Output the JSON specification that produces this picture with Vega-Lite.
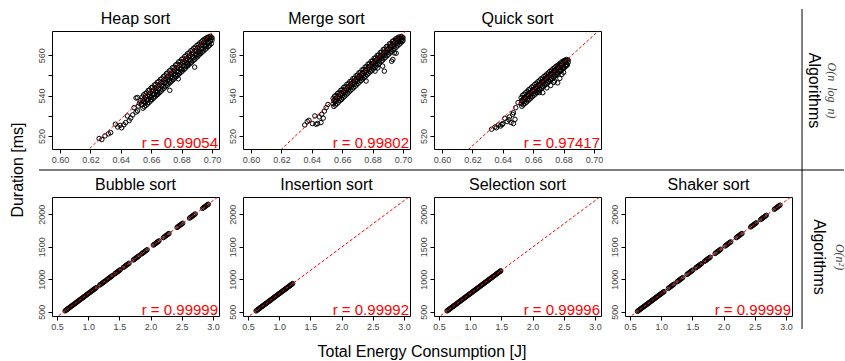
{
"$schema":"https://vega.github.io/schema/vega-lite/v6.json",
"padding":{"left":9,"top":8,"right":0,"bottom":0},
"background":"white",
"config":{
 "font":"Liberation Sans",
 "view":{"stroke":"#000","strokeWidth":1},
 "axis":{"grid":false,"domain":false,"ticks":true,"tickColor":"#000","tickSize":4,"tickWidth":1,"tickCount":20,"labelFont":"Liberation Sans","labelFontSize":9,"labelColor":"#444","labelPadding":2,"labelFlush":false,"labelOverlap":false},
 "axisY":{"labelAngle":-90,"labelAlign":"center","labelBaseline":"bottom"},
 "title":{"fontSize":16,"fontWeight":"normal","color":"#000","font":"Liberation Sans","offset":4}
},
"datasets":{
"heap":[
{"energy":0.654,"duration":535.6},{"energy":0.654,"duration":539.2},{"energy":0.655,"duration":537.1},{"energy":0.655,"duration":540.3},{"energy":0.656,"duration":536.4},{"energy":0.656,"duration":540.9},{"energy":0.657,"duration":538.0},{"energy":0.657,"duration":541.3},{"energy":0.658,"duration":537.9},{"energy":0.658,"duration":542.5},{"energy":0.659,"duration":539.6},{"energy":0.659,"duration":542.8},{"energy":0.660,"duration":539.1},{"energy":0.660,"duration":543.9},{"energy":0.661,"duration":540.7},{"energy":0.661,"duration":544.1},{"energy":0.662,"duration":540.5},{"energy":0.662,"duration":545.2},{"energy":0.663,"duration":542.1},{"energy":0.663,"duration":545.5},{"energy":0.664,"duration":541.6},{"energy":0.664,"duration":546.6},{"energy":0.665,"duration":543.4},{"energy":0.665,"duration":546.9},{"energy":0.666,"duration":542.9},{"energy":0.666,"duration":548.0},{"energy":0.667,"duration":544.8},{"energy":0.667,"duration":548.3},{"energy":0.668,"duration":544.5},{"energy":0.668,"duration":549.4},{"energy":0.669,"duration":546.2},{"energy":0.669,"duration":549.8},{"energy":0.670,"duration":545.8},{"energy":0.670,"duration":550.9},{"energy":0.671,"duration":547.6},{"energy":0.671,"duration":551.2},{"energy":0.672,"duration":547.2},{"energy":0.672,"duration":552.3},{"energy":0.673,"duration":549.0},{"energy":0.673,"duration":552.6},{"energy":0.674,"duration":548.7},{"energy":0.674,"duration":553.8},{"energy":0.675,"duration":550.5},{"energy":0.675,"duration":554.0},{"energy":0.676,"duration":550.1},{"energy":0.676,"duration":555.1},{"energy":0.677,"duration":551.9},{"energy":0.677,"duration":555.5},{"energy":0.678,"duration":551.6},{"energy":0.678,"duration":556.6},{"energy":0.679,"duration":553.2},{"energy":0.679,"duration":556.9},{"energy":0.680,"duration":553.0},{"energy":0.680,"duration":558.0},{"energy":0.681,"duration":554.7},{"energy":0.681,"duration":558.2},{"energy":0.682,"duration":554.4},{"energy":0.682,"duration":559.3},{"energy":0.683,"duration":556.1},{"energy":0.683,"duration":559.8},{"energy":0.684,"duration":555.9},{"energy":0.684,"duration":560.8},{"energy":0.685,"duration":557.5},{"energy":0.685,"duration":561.1},{"energy":0.686,"duration":557.2},{"energy":0.686,"duration":562.2},{"energy":0.687,"duration":559.0},{"energy":0.687,"duration":562.6},{"energy":0.688,"duration":558.8},{"energy":0.688,"duration":563.5},{"energy":0.689,"duration":560.3},{"energy":0.689,"duration":563.9},{"energy":0.690,"duration":560.0},{"energy":0.690,"duration":564.8},{"energy":0.691,"duration":561.8},{"energy":0.691,"duration":565.3},{"energy":0.692,"duration":561.6},{"energy":0.692,"duration":566.1},{"energy":0.693,"duration":563.2},{"energy":0.693,"duration":566.6},{"energy":0.694,"duration":563.1},{"energy":0.694,"duration":567.4},{"energy":0.695,"duration":564.6},{"energy":0.695,"duration":567.9},{"energy":0.696,"duration":564.5},{"energy":0.696,"duration":568.4},{"energy":0.697,"duration":566.0},{"energy":0.697,"duration":568.8},{"energy":0.698,"duration":566.2},{"energy":0.698,"duration":569.1},{"energy":0.699,"duration":567.1},{"energy":0.699,"duration":569.4},{"energy":0.700,"duration":567.5},{"energy":0.700,"duration":568.6},
{"energy":0.6545,"duration":537.7},{"energy":0.6545,"duration":533.7},{"energy":0.6555,"duration":538.4},{"energy":0.6555,"duration":534.4},{"energy":0.6565,"duration":539.1},{"energy":0.6565,"duration":535.1},{"energy":0.6575,"duration":539.8},{"energy":0.6575,"duration":535.8},{"energy":0.6585,"duration":540.5},{"energy":0.6585,"duration":536.5},{"energy":0.6595,"duration":541.3},{"energy":0.6595,"duration":537.3},{"energy":0.6605,"duration":542.0},{"energy":0.6605,"duration":538.0},{"energy":0.6615,"duration":542.7},{"energy":0.6615,"duration":538.7},{"energy":0.6625,"duration":543.4},{"energy":0.6625,"duration":539.4},{"energy":0.6635,"duration":544.1},{"energy":0.6635,"duration":540.1},{"energy":0.6645,"duration":544.8},{"energy":0.6645,"duration":540.8},{"energy":0.6655,"duration":545.5},{"energy":0.6655,"duration":541.5},{"energy":0.6665,"duration":546.2},{"energy":0.6665,"duration":542.2},{"energy":0.6675,"duration":547.0},{"energy":0.6675,"duration":543.0},{"energy":0.6685,"duration":547.7},{"energy":0.6685,"duration":543.7},{"energy":0.6695,"duration":548.4},{"energy":0.6695,"duration":544.4},{"energy":0.6705,"duration":549.1},{"energy":0.6705,"duration":545.1},{"energy":0.6715,"duration":549.8},{"energy":0.6715,"duration":545.8},{"energy":0.6725,"duration":550.5},{"energy":0.6725,"duration":546.5},{"energy":0.6735,"duration":551.2},{"energy":0.6735,"duration":547.2},{"energy":0.6745,"duration":551.9},{"energy":0.6745,"duration":547.9},{"energy":0.6755,"duration":552.7},{"energy":0.6755,"duration":548.7},{"energy":0.6765,"duration":553.4},{"energy":0.6765,"duration":549.4},{"energy":0.6775,"duration":554.1},{"energy":0.6775,"duration":550.1},{"energy":0.6785,"duration":554.8},{"energy":0.6785,"duration":550.8},{"energy":0.6795,"duration":555.5},{"energy":0.6795,"duration":551.5},{"energy":0.6805,"duration":556.2},{"energy":0.6805,"duration":552.2},{"energy":0.6815,"duration":556.9},{"energy":0.6815,"duration":552.9},{"energy":0.6825,"duration":557.6},{"energy":0.6825,"duration":553.6},{"energy":0.6835,"duration":558.4},{"energy":0.6835,"duration":554.4},{"energy":0.6845,"duration":559.1},{"energy":0.6845,"duration":555.1},{"energy":0.6855,"duration":559.8},{"energy":0.6855,"duration":555.8},{"energy":0.6865,"duration":560.5},{"energy":0.6865,"duration":556.5},{"energy":0.6875,"duration":561.2},{"energy":0.6875,"duration":557.2},{"energy":0.6885,"duration":561.9},{"energy":0.6885,"duration":557.9},{"energy":0.6895,"duration":562.6},{"energy":0.6895,"duration":558.6},{"energy":0.6905,"duration":563.3},{"energy":0.6905,"duration":559.3},{"energy":0.6915,"duration":564.1},{"energy":0.6915,"duration":560.1},{"energy":0.6925,"duration":564.8},{"energy":0.6925,"duration":560.8},{"energy":0.6935,"duration":565.5},{"energy":0.6935,"duration":561.5},{"energy":0.6945,"duration":566.2},{"energy":0.6945,"duration":562.2},{"energy":0.6955,"duration":566.9},{"energy":0.6955,"duration":562.9},{"energy":0.6965,"duration":567.6},{"energy":0.6965,"duration":563.6},{"energy":0.6975,"duration":568.3},{"energy":0.6975,"duration":564.3},{"energy":0.6985,"duration":568.5},{"energy":0.6985,"duration":565.0},{"energy":0.6995,"duration":568.8},{"energy":0.6995,"duration":565.7},
{"energy":0.6886,"duration":554.1},{"energy":0.6778,"duration":548.3},{"energy":0.6722,"duration":542.6},{"energy":0.651,"duration":539.0},{"energy":0.684,"duration":555.5},{"energy":0.692,"duration":561.0},{"energy":0.696,"duration":565.0},{"energy":0.660,"duration":538.0},{"energy":0.664,"duration":540.5},
{"energy":0.6257,"duration":518.7},{"energy":0.6275,"duration":518.2},{"energy":0.6296,"duration":520.0},{"energy":0.6318,"duration":521.0},{"energy":0.6333,"duration":521.6},{"energy":0.6364,"duration":525.8},{"energy":0.638,"duration":524.4},{"energy":0.6395,"duration":525.2},{"energy":0.6405,"duration":524.0},{"energy":0.642,"duration":525.5},{"energy":0.6432,"duration":526.6},{"energy":0.6443,"duration":529.9},{"energy":0.6455,"duration":527.6},{"energy":0.6465,"duration":528.8},{"energy":0.6478,"duration":530.4},{"energy":0.6487,"duration":534.0},{"energy":0.65,"duration":531.8},{"energy":0.651,"duration":532.4},{"energy":0.6515,"duration":534.8},{"energy":0.6522,"duration":536.2},{"energy":0.6528,"duration":537.5},{"energy":0.65,"duration":538.8},{"energy":0.6535,"duration":535.5}
],
"merge":[
{"energy":0.654,"duration":535.9},{"energy":0.654,"duration":538.6},{"energy":0.655,"duration":537.0},{"energy":0.655,"duration":539.7},{"energy":0.656,"duration":537.2},{"energy":0.656,"duration":540.0},{"energy":0.657,"duration":538.6},{"energy":0.657,"duration":541.1},{"energy":0.658,"duration":538.5},{"energy":0.658,"duration":541.5},{"energy":0.659,"duration":540.1},{"energy":0.659,"duration":542.6},{"energy":0.660,"duration":539.9},{"energy":0.660,"duration":542.9},{"energy":0.661,"duration":541.5},{"energy":0.661,"duration":544.1},{"energy":0.662,"duration":541.3},{"energy":0.662,"duration":544.3},{"energy":0.663,"duration":542.9},{"energy":0.663,"duration":545.5},{"energy":0.664,"duration":542.8},{"energy":0.664,"duration":545.8},{"energy":0.665,"duration":544.4},{"energy":0.665,"duration":546.9},{"energy":0.666,"duration":544.2},{"energy":0.666,"duration":547.2},{"energy":0.667,"duration":545.8},{"energy":0.667,"duration":548.4},{"energy":0.668,"duration":545.6},{"energy":0.668,"duration":548.6},{"energy":0.669,"duration":547.3},{"energy":0.669,"duration":549.8},{"energy":0.670,"duration":547.1},{"energy":0.670,"duration":550.1},{"energy":0.671,"duration":548.7},{"energy":0.671,"duration":551.3},{"energy":0.672,"duration":548.5},{"energy":0.672,"duration":551.5},{"energy":0.673,"duration":550.1},{"energy":0.673,"duration":552.7},{"energy":0.674,"duration":549.9},{"energy":0.674,"duration":552.9},{"energy":0.675,"duration":551.6},{"energy":0.675,"duration":554.1},{"energy":0.676,"duration":551.4},{"energy":0.676,"duration":554.4},{"energy":0.677,"duration":553.0},{"energy":0.677,"duration":555.6},{"energy":0.678,"duration":552.8},{"energy":0.678,"duration":555.8},{"energy":0.679,"duration":554.4},{"energy":0.679,"duration":557.0},{"energy":0.680,"duration":554.2},{"energy":0.680,"duration":557.2},{"energy":0.681,"duration":555.9},{"energy":0.681,"duration":558.5},{"energy":0.682,"duration":555.7},{"energy":0.682,"duration":558.7},{"energy":0.683,"duration":557.3},{"energy":0.683,"duration":559.9},{"energy":0.684,"duration":557.1},{"energy":0.684,"duration":560.1},{"energy":0.685,"duration":558.7},{"energy":0.685,"duration":561.3},{"energy":0.686,"duration":558.5},{"energy":0.686,"duration":561.5},{"energy":0.687,"duration":560.2},{"energy":0.687,"duration":562.8},{"energy":0.688,"duration":560.0},{"energy":0.688,"duration":563.0},{"energy":0.689,"duration":561.6},{"energy":0.689,"duration":564.2},{"energy":0.690,"duration":561.4},{"energy":0.690,"duration":564.4},{"energy":0.691,"duration":563.0},{"energy":0.691,"duration":565.6},{"energy":0.692,"duration":562.8},{"energy":0.692,"duration":565.8},{"energy":0.693,"duration":564.5},{"energy":0.693,"duration":566.9},{"energy":0.694,"duration":564.3},{"energy":0.694,"duration":567.2},{"energy":0.695,"duration":565.9},{"energy":0.695,"duration":568.0},{"energy":0.696,"duration":565.7},{"energy":0.696,"duration":568.4},{"energy":0.697,"duration":567.0},{"energy":0.697,"duration":568.9},{"energy":0.698,"duration":566.8},{"energy":0.698,"duration":569.0},{"energy":0.699,"duration":567.6},{"energy":0.699,"duration":569.3},{"energy":0.700,"duration":567.4},{"energy":0.700,"duration":568.7},
{"energy":0.6545,"duration":537.6},{"energy":0.6545,"duration":534.6},{"energy":0.6555,"duration":538.3},{"energy":0.6555,"duration":535.3},{"energy":0.6565,"duration":539.0},{"energy":0.6565,"duration":536.0},{"energy":0.6575,"duration":539.7},{"energy":0.6575,"duration":536.7},{"energy":0.6585,"duration":540.5},{"energy":0.6585,"duration":537.5},{"energy":0.6595,"duration":541.2},{"energy":0.6595,"duration":538.2},{"energy":0.6605,"duration":541.9},{"energy":0.6605,"duration":538.9},{"energy":0.6615,"duration":542.6},{"energy":0.6615,"duration":539.6},{"energy":0.6625,"duration":543.3},{"energy":0.6625,"duration":540.3},{"energy":0.6635,"duration":544.0},{"energy":0.6635,"duration":541.0},{"energy":0.6645,"duration":544.8},{"energy":0.6645,"duration":541.8},{"energy":0.6655,"duration":545.5},{"energy":0.6655,"duration":542.5},{"energy":0.6665,"duration":546.2},{"energy":0.6665,"duration":543.2},{"energy":0.6675,"duration":546.9},{"energy":0.6675,"duration":543.9},{"energy":0.6685,"duration":547.6},{"energy":0.6685,"duration":544.6},{"energy":0.6695,"duration":548.3},{"energy":0.6695,"duration":545.3},{"energy":0.6705,"duration":549.1},{"energy":0.6705,"duration":546.1},{"energy":0.6715,"duration":549.8},{"energy":0.6715,"duration":546.8},{"energy":0.6725,"duration":550.5},{"energy":0.6725,"duration":547.5},{"energy":0.6735,"duration":551.2},{"energy":0.6735,"duration":548.2},{"energy":0.6745,"duration":551.9},{"energy":0.6745,"duration":548.9},{"energy":0.6755,"duration":552.6},{"energy":0.6755,"duration":549.6},{"energy":0.6765,"duration":553.4},{"energy":0.6765,"duration":550.4},{"energy":0.6775,"duration":554.1},{"energy":0.6775,"duration":551.1},{"energy":0.6785,"duration":554.8},{"energy":0.6785,"duration":551.8},{"energy":0.6795,"duration":555.5},{"energy":0.6795,"duration":552.5},{"energy":0.6805,"duration":556.2},{"energy":0.6805,"duration":553.2},{"energy":0.6815,"duration":556.9},{"energy":0.6815,"duration":553.9},{"energy":0.6825,"duration":557.7},{"energy":0.6825,"duration":554.7},{"energy":0.6835,"duration":558.4},{"energy":0.6835,"duration":555.4},{"energy":0.6845,"duration":559.1},{"energy":0.6845,"duration":556.1},{"energy":0.6855,"duration":559.8},{"energy":0.6855,"duration":556.8},{"energy":0.6865,"duration":560.5},{"energy":0.6865,"duration":557.5},{"energy":0.6875,"duration":561.2},{"energy":0.6875,"duration":558.2},{"energy":0.6885,"duration":562.0},{"energy":0.6885,"duration":559.0},{"energy":0.6895,"duration":562.7},{"energy":0.6895,"duration":559.7},{"energy":0.6905,"duration":563.4},{"energy":0.6905,"duration":560.4},{"energy":0.6915,"duration":564.1},{"energy":0.6915,"duration":561.1},{"energy":0.6925,"duration":564.8},{"energy":0.6925,"duration":561.8},{"energy":0.6935,"duration":565.5},{"energy":0.6935,"duration":562.5},{"energy":0.6945,"duration":566.3},{"energy":0.6945,"duration":563.3},{"energy":0.6955,"duration":567.0},{"energy":0.6955,"duration":564.0},{"energy":0.6965,"duration":567.7},{"energy":0.6965,"duration":564.7},{"energy":0.6975,"duration":568.2},{"energy":0.6975,"duration":565.4},{"energy":0.6985,"duration":568.6},{"energy":0.6985,"duration":566.1},{"energy":0.6995,"duration":568.9},{"energy":0.6995,"duration":566.8},
{"energy":0.6933,"duration":557.9},{"energy":0.6943,"duration":561.1},{"energy":0.6955,"duration":561.0},{"energy":0.6925,"duration":557.0},{"energy":0.6877,"duration":552.1},{"energy":0.6816,"duration":552.1},{"energy":0.6757,"duration":547.2},{"energy":0.673,"duration":548.8},{"energy":0.6596,"duration":538.1},{"energy":0.6551,"duration":537.3},{"energy":0.6866,"duration":554.6},{"energy":0.6834,"duration":553.7},
{"energy":0.6353,"duration":525.4},{"energy":0.637,"duration":527.1},{"energy":0.6381,"duration":527.7},{"energy":0.642,"duration":529.9},{"energy":0.6427,"duration":525.8},{"energy":0.6438,"duration":526.1},{"energy":0.646,"duration":526.6},{"energy":0.6465,"duration":530.7},{"energy":0.6483,"duration":532.3},{"energy":0.6494,"duration":534.0},{"energy":0.6506,"duration":535.6},{"energy":0.6404,"duration":526.1},{"energy":0.6449,"duration":529.4},{"energy":0.6475,"duration":528.8}
],
"quick":[
{"energy":0.652,"duration":536.0},{"energy":0.652,"duration":538.9},{"energy":0.653,"duration":537.3},{"energy":0.653,"duration":540.1},{"energy":0.654,"duration":537.0},{"energy":0.654,"duration":540.6},{"energy":0.655,"duration":538.6},{"energy":0.655,"duration":541.4},{"energy":0.656,"duration":538.2},{"energy":0.656,"duration":542.0},{"energy":0.657,"duration":539.8},{"energy":0.657,"duration":542.9},{"energy":0.658,"duration":539.5},{"energy":0.658,"duration":543.3},{"energy":0.659,"duration":541.2},{"energy":0.659,"duration":544.2},{"energy":0.660,"duration":540.9},{"energy":0.660,"duration":544.7},{"energy":0.661,"duration":542.3},{"energy":0.661,"duration":545.5},{"energy":0.662,"duration":542.0},{"energy":0.662,"duration":546.0},{"energy":0.663,"duration":543.7},{"energy":0.663,"duration":546.8},{"energy":0.664,"duration":543.3},{"energy":0.664,"duration":547.3},{"energy":0.665,"duration":545.0},{"energy":0.665,"duration":548.2},{"energy":0.666,"duration":544.6},{"energy":0.666,"duration":548.6},{"energy":0.667,"duration":546.4},{"energy":0.667,"duration":549.4},{"energy":0.668,"duration":546.0},{"energy":0.668,"duration":549.9},{"energy":0.669,"duration":547.6},{"energy":0.669,"duration":550.7},{"energy":0.670,"duration":547.3},{"energy":0.670,"duration":551.2},{"energy":0.671,"duration":549.0},{"energy":0.671,"duration":552.0},{"energy":0.672,"duration":548.6},{"energy":0.672,"duration":552.5},{"energy":0.673,"duration":550.3},{"energy":0.673,"duration":553.3},{"energy":0.674,"duration":549.9},{"energy":0.674,"duration":553.7},{"energy":0.675,"duration":551.6},{"energy":0.675,"duration":554.5},{"energy":0.676,"duration":551.2},{"energy":0.676,"duration":554.9},{"energy":0.677,"duration":552.8},{"energy":0.677,"duration":555.6},{"energy":0.678,"duration":552.5},{"energy":0.678,"duration":556.1},{"energy":0.679,"duration":554.0},{"energy":0.679,"duration":556.8},{"energy":0.680,"duration":553.8},{"energy":0.680,"duration":557.2},{"energy":0.681,"duration":555.0},{"energy":0.681,"duration":557.6},{"energy":0.682,"duration":555.2},{"energy":0.682,"duration":557.9},{"energy":0.683,"duration":556.4},{"energy":0.683,"duration":557.5},
{"energy":0.6525,"duration":537.7},{"energy":0.6525,"duration":534.7},{"energy":0.6535,"duration":538.4},{"energy":0.6535,"duration":535.4},{"energy":0.6545,"duration":539.1},{"energy":0.6545,"duration":536.1},{"energy":0.6555,"duration":539.7},{"energy":0.6555,"duration":536.7},{"energy":0.6565,"duration":540.4},{"energy":0.6565,"duration":537.4},{"energy":0.6575,"duration":541.1},{"energy":0.6575,"duration":538.1},{"energy":0.6585,"duration":541.8},{"energy":0.6585,"duration":538.8},{"energy":0.6595,"duration":542.5},{"energy":0.6595,"duration":539.5},{"energy":0.6605,"duration":543.2},{"energy":0.6605,"duration":540.2},{"energy":0.6615,"duration":543.8},{"energy":0.6615,"duration":540.8},{"energy":0.6625,"duration":544.5},{"energy":0.6625,"duration":541.5},{"energy":0.6635,"duration":545.2},{"energy":0.6635,"duration":542.2},{"energy":0.6645,"duration":545.9},{"energy":0.6645,"duration":542.9},{"energy":0.6655,"duration":546.6},{"energy":0.6655,"duration":543.6},{"energy":0.6665,"duration":547.3},{"energy":0.6665,"duration":544.3},{"energy":0.6675,"duration":548.0},{"energy":0.6675,"duration":545.0},{"energy":0.6685,"duration":548.6},{"energy":0.6685,"duration":545.6},{"energy":0.6695,"duration":549.3},{"energy":0.6695,"duration":546.3},{"energy":0.6705,"duration":550.0},{"energy":0.6705,"duration":547.0},{"energy":0.6715,"duration":550.7},{"energy":0.6715,"duration":547.7},{"energy":0.6725,"duration":551.4},{"energy":0.6725,"duration":548.4},{"energy":0.6735,"duration":552.1},{"energy":0.6735,"duration":549.1},{"energy":0.6745,"duration":552.7},{"energy":0.6745,"duration":549.7},{"energy":0.6755,"duration":553.4},{"energy":0.6755,"duration":550.4},{"energy":0.6765,"duration":554.1},{"energy":0.6765,"duration":551.1},{"energy":0.6775,"duration":554.8},{"energy":0.6775,"duration":551.8},{"energy":0.6785,"duration":555.5},{"energy":0.6785,"duration":552.5},{"energy":0.6795,"duration":556.2},{"energy":0.6795,"duration":553.2},{"energy":0.6805,"duration":556.8},{"energy":0.6805,"duration":553.8},{"energy":0.6815,"duration":557.2},{"energy":0.6815,"duration":554.5},{"energy":0.6825,"duration":557.4},{"energy":0.6825,"duration":555.2},
{"energy":0.654,"duration":539.0},{"energy":0.657,"duration":541.3},{"energy":0.660,"duration":543.0},{"energy":0.663,"duration":545.2},{"energy":0.666,"duration":547.0},{"energy":0.669,"duration":549.2},{"energy":0.672,"duration":550.9},{"energy":0.675,"duration":553.0},{"energy":0.678,"duration":554.6},{"energy":0.681,"duration":556.4},
{"energy":0.674,"duration":547.2},{"energy":0.6761,"duration":546.3},{"energy":0.6663,"duration":541.4},{"energy":0.6789,"duration":550.5},{"energy":0.6775,"duration":548.5},{"energy":0.680,"duration":551.5},{"energy":0.6715,"duration":545.0},{"energy":0.6735,"duration":546.5},{"energy":0.664,"duration":541.5},{"energy":0.669,"duration":543.8},
{"energy":0.6326,"duration":523.3},{"energy":0.6348,"duration":524.4},{"energy":0.637,"duration":525.4},{"energy":0.6385,"duration":524.9},{"energy":0.64,"duration":526.1},{"energy":0.6413,"duration":528.7},{"energy":0.6428,"duration":527.1},{"energy":0.6443,"duration":529.4},{"energy":0.6454,"duration":526.6},{"energy":0.6465,"duration":530.7},{"energy":0.647,"duration":526.1},{"energy":0.648,"duration":528.2},{"energy":0.6485,"duration":534.0},{"energy":0.65,"duration":536.5},{"energy":0.647,"duration":531.5},{"energy":0.644,"duration":528.0},{"energy":0.6395,"duration":525.6},{"energy":0.6358,"duration":524.0}
],
"bubble":[
{"energy":0.63,"duration":513},{"energy":0.6425,"duration":522},{"energy":0.655,"duration":531},{"energy":0.6675,"duration":540},{"energy":0.68,"duration":549},{"energy":0.6925,"duration":558},{"energy":0.705,"duration":567},{"energy":0.7175,"duration":576},{"energy":0.73,"duration":585},{"energy":0.7425,"duration":594},{"energy":0.755,"duration":603},{"energy":0.7675,"duration":612},{"energy":0.78,"duration":620},{"energy":0.7925,"duration":629},{"energy":0.805,"duration":638},{"energy":0.8175,"duration":647},{"energy":0.83,"duration":656},{"energy":0.8425,"duration":665},{"energy":0.855,"duration":674},{"energy":0.8675,"duration":683},{"energy":0.88,"duration":692},{"energy":0.8925,"duration":701},{"energy":0.905,"duration":710},{"energy":0.9175,"duration":719},{"energy":0.93,"duration":728},{"energy":0.9425,"duration":737},{"energy":0.955,"duration":746},{"energy":0.9675,"duration":755},{"energy":0.98,"duration":764},{"energy":0.9925,"duration":773},{"energy":1.005,"duration":782},{"energy":1.0175,"duration":791},{"energy":1.03,"duration":800},{"energy":1.0425,"duration":808},{"energy":1.055,"duration":817},{"energy":1.0675,"duration":826},{"energy":1.08,"duration":835},{"energy":1.0925,"duration":844},{"energy":1.105,"duration":853},{"energy":1.1175,"duration":862},{"energy":1.13,"duration":871},
{"energy":1.185,"duration":910},{"energy":1.2,"duration":921},{"energy":1.215,"duration":932},{"energy":1.23,"duration":943},{"energy":1.245,"duration":953},{"energy":1.26,"duration":964},{"energy":1.275,"duration":975},
{"energy":1.295,"duration":989},{"energy":1.31,"duration":1000},{"energy":1.325,"duration":1011},{"energy":1.34,"duration":1021},{"energy":1.355,"duration":1032},{"energy":1.37,"duration":1043},{"energy":1.385,"duration":1054},
{"energy":1.425,"duration":1082},{"energy":1.44,"duration":1093},{"energy":1.455,"duration":1104},{"energy":1.47,"duration":1115},{"energy":1.485,"duration":1125},{"energy":1.5,"duration":1136},{"energy":1.515,"duration":1147},
{"energy":1.565,"duration":1183},{"energy":1.58,"duration":1193},{"energy":1.595,"duration":1204},{"energy":1.61,"duration":1215},{"energy":1.625,"duration":1226},{"energy":1.64,"duration":1236},{"energy":1.655,"duration":1247},
{"energy":1.725,"duration":1297},{"energy":1.74,"duration":1308},{"energy":1.755,"duration":1319},{"energy":1.77,"duration":1329},{"energy":1.785,"duration":1340},{"energy":1.8,"duration":1351},{"energy":1.815,"duration":1362},
{"energy":1.855,"duration":1390},{"energy":1.87,"duration":1401},{"energy":1.885,"duration":1412},{"energy":1.9,"duration":1422},{"energy":1.915,"duration":1433},{"energy":1.93,"duration":1444},{"energy":1.945,"duration":1455},
{"energy":2.045,"duration":1526},{"energy":2.06,"duration":1537},{"energy":2.075,"duration":1548},{"energy":2.09,"duration":1558},{"energy":2.105,"duration":1569},{"energy":2.12,"duration":1580},{"energy":2.135,"duration":1591},
{"energy":2.205,"duration":1641},{"energy":2.22,"duration":1652},{"energy":2.235,"duration":1662},{"energy":2.25,"duration":1673},{"energy":2.265,"duration":1684},{"energy":2.28,"duration":1695},{"energy":2.295,"duration":1705},
{"energy":2.425,"duration":1798},{"energy":2.44,"duration":1809},{"energy":2.455,"duration":1820},{"energy":2.47,"duration":1831},{"energy":2.485,"duration":1841},{"energy":2.5,"duration":1852},{"energy":2.515,"duration":1863},
{"energy":2.625,"duration":1942},{"energy":2.64,"duration":1952},{"energy":2.655,"duration":1963},{"energy":2.67,"duration":1974},{"energy":2.685,"duration":1985},{"energy":2.7,"duration":1995},{"energy":2.715,"duration":2006},
{"energy":2.835,"duration":2092},{"energy":2.85,"duration":2103},{"energy":2.865,"duration":2113},{"energy":2.88,"duration":2124},{"energy":2.895,"duration":2135},{"energy":2.91,"duration":2146},{"energy":2.925,"duration":2156}
],
"insertion":[
{"energy":0.63,"duration":513},{"energy":0.6425,"duration":522},{"energy":0.655,"duration":531},{"energy":0.6675,"duration":540},{"energy":0.68,"duration":549},{"energy":0.6925,"duration":558},{"energy":0.705,"duration":567},{"energy":0.7175,"duration":576},{"energy":0.73,"duration":585},{"energy":0.7425,"duration":594},{"energy":0.755,"duration":603},{"energy":0.7675,"duration":612},{"energy":0.78,"duration":620},{"energy":0.7925,"duration":629},{"energy":0.805,"duration":638},{"energy":0.8175,"duration":647},{"energy":0.83,"duration":656},{"energy":0.8425,"duration":665},{"energy":0.855,"duration":674},{"energy":0.8675,"duration":683},{"energy":0.88,"duration":692},{"energy":0.8925,"duration":701},{"energy":0.905,"duration":710},{"energy":0.9175,"duration":719},{"energy":0.93,"duration":728},{"energy":0.9425,"duration":737},{"energy":0.955,"duration":746},{"energy":0.9675,"duration":755},{"energy":0.98,"duration":764},{"energy":0.9925,"duration":773},{"energy":1.005,"duration":782},{"energy":1.0175,"duration":791},{"energy":1.03,"duration":800},{"energy":1.0425,"duration":808},{"energy":1.055,"duration":817},{"energy":1.0675,"duration":826},{"energy":1.08,"duration":835},{"energy":1.0925,"duration":844},{"energy":1.105,"duration":853},{"energy":1.1175,"duration":862},{"energy":1.13,"duration":871},{"energy":1.1425,"duration":880},{"energy":1.155,"duration":889},{"energy":1.1675,"duration":898},{"energy":1.18,"duration":907},{"energy":1.1925,"duration":916},{"energy":1.205,"duration":925},{"energy":1.215,"duration":934}
],
"selection":[
{"energy":0.63,"duration":513},{"energy":0.6425,"duration":522},{"energy":0.655,"duration":531},{"energy":0.6675,"duration":540},{"energy":0.68,"duration":549},{"energy":0.6925,"duration":558},{"energy":0.705,"duration":567},{"energy":0.7175,"duration":576},{"energy":0.73,"duration":585},{"energy":0.7425,"duration":594},{"energy":0.755,"duration":603},{"energy":0.7675,"duration":612},{"energy":0.78,"duration":620},{"energy":0.7925,"duration":629},{"energy":0.805,"duration":638},{"energy":0.8175,"duration":647},{"energy":0.83,"duration":656},{"energy":0.8425,"duration":665},{"energy":0.855,"duration":674},{"energy":0.8675,"duration":683},{"energy":0.88,"duration":692},{"energy":0.8925,"duration":701},{"energy":0.905,"duration":710},{"energy":0.9175,"duration":719},{"energy":0.93,"duration":728},{"energy":0.9425,"duration":737},{"energy":0.955,"duration":746},{"energy":0.9675,"duration":755},{"energy":0.98,"duration":764},{"energy":0.9925,"duration":773},{"energy":1.005,"duration":782},{"energy":1.0175,"duration":791},{"energy":1.03,"duration":800},{"energy":1.0425,"duration":808},{"energy":1.055,"duration":817},{"energy":1.0675,"duration":826},{"energy":1.08,"duration":835},{"energy":1.0925,"duration":844},{"energy":1.105,"duration":853},{"energy":1.1175,"duration":862},{"energy":1.13,"duration":871},{"energy":1.1425,"duration":880},{"energy":1.155,"duration":889},{"energy":1.1675,"duration":898},{"energy":1.18,"duration":907},{"energy":1.1925,"duration":916},{"energy":1.205,"duration":925},{"energy":1.2175,"duration":934},{"energy":1.23,"duration":943},{"energy":1.2425,"duration":952},{"energy":1.255,"duration":961},{"energy":1.2675,"duration":970},{"energy":1.28,"duration":979},{"energy":1.2925,"duration":988},{"energy":1.305,"duration":997},{"energy":1.3175,"duration":1006},{"energy":1.33,"duration":1015},{"energy":1.3425,"duration":1024},{"energy":1.355,"duration":1033},{"energy":1.3675,"duration":1042},{"energy":1.38,"duration":1051},{"energy":1.3925,"duration":1060},{"energy":1.405,"duration":1069},{"energy":1.4175,"duration":1078},{"energy":1.43,"duration":1087},{"energy":1.4425,"duration":1096},{"energy":1.455,"duration":1105},{"energy":1.4675,"duration":1114},{"energy":1.48,"duration":1123},{"energy":1.49,"duration":1131}
],
"shaker":[
{"energy":0.62,"duration":506},{"energy":0.6325,"duration":515},{"energy":0.645,"duration":524},{"energy":0.6575,"duration":533},{"energy":0.67,"duration":542},{"energy":0.6825,"duration":551},{"energy":0.695,"duration":560},{"energy":0.7075,"duration":569},{"energy":0.72,"duration":578},{"energy":0.7325,"duration":587},{"energy":0.745,"duration":595},{"energy":0.7575,"duration":604},{"energy":0.77,"duration":613},{"energy":0.7825,"duration":622},{"energy":0.795,"duration":631},{"energy":0.8075,"duration":640},{"energy":0.82,"duration":649},{"energy":0.8325,"duration":658},{"energy":0.845,"duration":667},{"energy":0.8575,"duration":676},{"energy":0.87,"duration":685},{"energy":0.8825,"duration":694},{"energy":0.895,"duration":703},{"energy":0.9075,"duration":712},{"energy":0.92,"duration":721},{"energy":0.9325,"duration":730},{"energy":0.945,"duration":739},{"energy":0.9575,"duration":748},{"energy":0.97,"duration":757},{"energy":0.9825,"duration":766},{"energy":0.995,"duration":774},{"energy":1.0075,"duration":783},{"energy":1.02,"duration":792},{"energy":1.0325,"duration":801},{"energy":1.045,"duration":810},
{"energy":1.115,"duration":860},{"energy":1.13,"duration":871},{"energy":1.145,"duration":882},{"energy":1.16,"duration":893},{"energy":1.175,"duration":903},{"energy":1.19,"duration":914},{"energy":1.205,"duration":925},
{"energy":1.255,"duration":961},{"energy":1.27,"duration":971},{"energy":1.285,"duration":982},{"energy":1.3,"duration":993},{"energy":1.315,"duration":1004},{"energy":1.33,"duration":1014},{"energy":1.345,"duration":1025},
{"energy":1.415,"duration":1075},{"energy":1.43,"duration":1086},{"energy":1.445,"duration":1097},{"energy":1.46,"duration":1107},{"energy":1.475,"duration":1118},{"energy":1.49,"duration":1129},{"energy":1.505,"duration":1140},
{"energy":1.555,"duration":1175},{"energy":1.57,"duration":1186},{"energy":1.585,"duration":1197},{"energy":1.6,"duration":1208},{"energy":1.615,"duration":1218},{"energy":1.63,"duration":1229},{"energy":1.645,"duration":1240},
{"energy":1.695,"duration":1276},{"energy":1.71,"duration":1286},{"energy":1.725,"duration":1297},{"energy":1.74,"duration":1308},{"energy":1.755,"duration":1319},{"energy":1.77,"duration":1329},{"energy":1.785,"duration":1340},
{"energy":1.865,"duration":1397},{"energy":1.88,"duration":1408},{"energy":1.895,"duration":1419},{"energy":1.91,"duration":1430},{"energy":1.925,"duration":1440},{"energy":1.94,"duration":1451},{"energy":1.955,"duration":1462},
{"energy":2.025,"duration":1512},{"energy":2.04,"duration":1523},{"energy":2.055,"duration":1533},{"energy":2.07,"duration":1544},{"energy":2.085,"duration":1555},{"energy":2.1,"duration":1566},{"energy":2.115,"duration":1576},
{"energy":2.205,"duration":1641},{"energy":2.22,"duration":1652},{"energy":2.235,"duration":1662},{"energy":2.25,"duration":1673},{"energy":2.265,"duration":1684},{"energy":2.28,"duration":1695},{"energy":2.295,"duration":1705},
{"energy":2.435,"duration":1806},{"energy":2.45,"duration":1816},{"energy":2.465,"duration":1827},{"energy":2.48,"duration":1838},{"energy":2.495,"duration":1848},{"energy":2.51,"duration":1859},{"energy":2.525,"duration":1870},
{"energy":2.595,"duration":1920},{"energy":2.61,"duration":1931},{"energy":2.625,"duration":1942},{"energy":2.64,"duration":1952},{"energy":2.655,"duration":1963},{"energy":2.67,"duration":1974},{"energy":2.685,"duration":1985},
{"energy":2.815,"duration":2078},{"energy":2.83,"duration":2088},{"energy":2.845,"duration":2099},{"energy":2.86,"duration":2110},{"energy":2.875,"duration":2121},{"energy":2.89,"duration":2131},{"energy":2.905,"duration":2142}
]
},
"title":{"text":"Duration [ms]","orient":"left","anchor":"middle","frame":"bounds","offset":11,"fontSize":16,"dx":14},
"vconcat":[
{
"title":{"text":"Total Energy Consumption [J]","orient":"bottom","anchor":"middle","frame":"bounds","offset":12,"dx":-19},
"columns":4,"bounds":"flush","spacing":{"row":48,"column":24},
"concat":[
 {"width":167,"height":118,"title":"Heap sort","layer":[
  {"data":{"name":"heap"},"mark":{"type":"point","shape":"circle","filled":false,"size":20,"strokeWidth":1,"color":"#000","opacity":1},
   "encoding":{"x":{"field":"energy","type":"quantitative","scale":{"domain":[0.5947,0.7046],"nice":false,"zero":false},"axis":{"values":[0.6,0.62,0.64,0.66,0.68,0.7],"tickCount":20,"format":".2f","title":null,"labelOverlap":false}},
   "y":{"field":"duration","type":"quantitative","scale":{"domain":[513.5,572],"nice":false,"zero":false},"axis":{"values":[520,530,540,550,560],"tickCount":20,"labelExpr":"datum.value % 20 === 0 ? datum.label : ''","title":null,"labelOverlap":false}}}},
  {"data":{"values":[{"energy":0.61,"duration":507.0},{"energy":0.71,"duration":578.2}]},"mark":{"type":"line","color":"#ff0000","strokeWidth":1,"strokeDash":[3,2],"clip":true},
   "encoding":{"x":{"field":"energy","type":"quantitative"},"y":{"field":"duration","type":"quantitative"}}},
  {"data":{"values":[{"label":"r = 0.99054"}]},"mark":{"type":"text","align":"right","baseline":"alphabetic","color":"#ff0000","fontSize":15,"font":"Liberation Sans","dx":-1,"dy":-1},
   "encoding":{"x":{"datum":0.7046,"type":"quantitative"},"y":{"datum":513.5,"type":"quantitative"},"text":{"field":"label"}}}
 ]},
 {"width":167,"height":118,"title":"Merge sort","layer":[
  {"data":{"name":"merge"},"mark":{"type":"point","shape":"circle","filled":false,"size":20,"strokeWidth":1,"color":"#000","opacity":1},
   "encoding":{"x":{"field":"energy","type":"quantitative","scale":{"domain":[0.5947,0.7046],"nice":false,"zero":false},"axis":{"values":[0.6,0.62,0.64,0.66,0.68,0.7],"tickCount":20,"format":".2f","title":null,"labelOverlap":false}},
   "y":{"field":"duration","type":"quantitative","scale":{"domain":[513.5,572],"nice":false,"zero":false},"axis":{"values":[520,530,540,550,560],"tickCount":20,"labelExpr":"datum.value % 20 === 0 ? datum.label : ''","title":null,"labelOverlap":false}}}},
  {"data":{"values":[{"energy":0.61,"duration":506.2},{"energy":0.71,"duration":577.8}]},"mark":{"type":"line","color":"#ff0000","strokeWidth":1,"strokeDash":[3,2],"clip":true},
   "encoding":{"x":{"field":"energy","type":"quantitative"},"y":{"field":"duration","type":"quantitative"}}},
  {"data":{"values":[{"label":"r = 0.99802"}]},"mark":{"type":"text","align":"right","baseline":"alphabetic","color":"#ff0000","fontSize":15,"font":"Liberation Sans","dx":-1,"dy":-1},
   "encoding":{"x":{"datum":0.7046,"type":"quantitative"},"y":{"datum":513.5,"type":"quantitative"},"text":{"field":"label"}}}
 ]},
 {"width":167,"height":118,"title":"Quick sort","layer":[
  {"data":{"name":"quick"},"mark":{"type":"point","shape":"circle","filled":false,"size":20,"strokeWidth":1,"color":"#000","opacity":1},
   "encoding":{"x":{"field":"energy","type":"quantitative","scale":{"domain":[0.5947,0.7046],"nice":false,"zero":false},"axis":{"values":[0.6,0.62,0.64,0.66,0.68,0.7],"tickCount":20,"format":".2f","title":null,"labelOverlap":false}},
   "y":{"field":"duration","type":"quantitative","scale":{"domain":[513.5,572],"nice":false,"zero":false},"axis":{"values":[520,530,540,550,560],"tickCount":20,"labelExpr":"datum.value % 20 === 0 ? datum.label : ''","title":null,"labelOverlap":false}}}},
  {"data":{"values":[{"energy":0.61,"duration":508.2},{"energy":0.71,"duration":576.9}]},"mark":{"type":"line","color":"#ff0000","strokeWidth":1,"strokeDash":[3,2],"clip":true},
   "encoding":{"x":{"field":"energy","type":"quantitative"},"y":{"field":"duration","type":"quantitative"}}},
  {"data":{"values":[{"label":"r = 0.97417"}]},"mark":{"type":"text","align":"right","baseline":"alphabetic","color":"#ff0000","fontSize":15,"font":"Liberation Sans","dx":-1,"dy":-1},
   "encoding":{"x":{"datum":0.7046,"type":"quantitative"},"y":{"datum":513.5,"type":"quantitative"},"text":{"field":"label"}}}
 ]},
 {"width":167,"height":118,"view":{"stroke":null},"resolve":{"axis":{"y":"independent"}},"layer":[
  {"data":{"values":[{}]},"mark":{"type":"rule","color":"#000","strokeWidth":1},
   "encoding":{"x":{"datum":1.06,"type":"quantitative","scale":{"domain":[0,1],"nice":false,"zero":false},"axis":null},
    "y":{"datum":1.186,"type":"quantitative","scale":{"domain":[0,1],"nice":false,"zero":false},"axis":{"orient":"right","title":"O(n\u2002log\u2002n)","labels":false,"ticks":false,"domain":false,"titleFont":"Liberation Serif","titleFontStyle":"italic","titleFontSize":12,"titleFontWeight":"normal","titleColor":"#444","titleAngle":90,"titleAnchor":"middle","titleAlign":"center","titlePadding":32}},"y2":{"datum":-1.525}}},
  {"data":{"values":[{}]},"mark":{"type":"rule","color":"#000","strokeWidth":1},
   "encoding":{"x":{"datum":-3.509,"type":"quantitative","axis":null},"x2":{"datum":1.311},
    "y":{"datum":-0.178,"type":"quantitative","axis":{"orient":"right","title":"Algorithms","labels":false,"ticks":false,"domain":false,"titleFont":"Liberation Sans","titleFontSize":16,"titleFontWeight":"normal","titleColor":"#000","titleAngle":90,"titleAnchor":"middle","titleAlign":"center","titlePadding":13}}}}
 ]},
 {"width":167,"height":119,"title":"Bubble sort","layer":[
  {"data":{"name":"bubble"},"mark":{"type":"point","shape":"circle","filled":false,"size":20,"strokeWidth":1,"color":"#000","opacity":1},
   "encoding":{"x":{"field":"energy","type":"quantitative","scale":{"domain":[0.42,3.097],"nice":false,"zero":false},"axis":{"values":[0.5,1,1.5,2,2.5,3],"tickCount":20,"format":".1f","title":null,"labelOverlap":false}},
   "y":{"field":"duration","type":"quantitative","scale":{"domain":[434,2267],"nice":false,"zero":false},"axis":{"values":[500,1000,1500,2000],"tickCount":20,"format":"d","title":null,"labelOverlap":false}}}},
  {"data":{"values":[{"energy":0.4,"duration":348},{"energy":3.2,"duration":2353}]},"mark":{"type":"line","color":"#ff0000","strokeWidth":1,"strokeDash":[3,2],"clip":true},
   "encoding":{"x":{"field":"energy","type":"quantitative"},"y":{"field":"duration","type":"quantitative"}}},
  {"data":{"values":[{"label":"r = 0.99999"}]},"mark":{"type":"text","align":"right","baseline":"alphabetic","color":"#ff0000","fontSize":15,"font":"Liberation Sans","dx":-1,"dy":-1},
   "encoding":{"x":{"datum":3.097,"type":"quantitative"},"y":{"datum":434,"type":"quantitative"},"text":{"field":"label"}}}
 ]},
 {"width":167,"height":119,"title":"Insertion sort","layer":[
  {"data":{"name":"insertion"},"mark":{"type":"point","shape":"circle","filled":false,"size":20,"strokeWidth":1,"color":"#000","opacity":1},
   "encoding":{"x":{"field":"energy","type":"quantitative","scale":{"domain":[0.42,3.097],"nice":false,"zero":false},"axis":{"values":[0.5,1,1.5,2,2.5,3],"tickCount":20,"format":".1f","title":null,"labelOverlap":false}},
   "y":{"field":"duration","type":"quantitative","scale":{"domain":[434,2267],"nice":false,"zero":false},"axis":{"values":[500,1000,1500,2000],"tickCount":20,"format":"d","title":null,"labelOverlap":false}}}},
  {"data":{"values":[{"energy":0.4,"duration":348},{"energy":3.2,"duration":2353}]},"mark":{"type":"line","color":"#ff0000","strokeWidth":1,"strokeDash":[3,2],"clip":true},
   "encoding":{"x":{"field":"energy","type":"quantitative"},"y":{"field":"duration","type":"quantitative"}}},
  {"data":{"values":[{"label":"r = 0.99992"}]},"mark":{"type":"text","align":"right","baseline":"alphabetic","color":"#ff0000","fontSize":15,"font":"Liberation Sans","dx":-1,"dy":-1},
   "encoding":{"x":{"datum":3.097,"type":"quantitative"},"y":{"datum":434,"type":"quantitative"},"text":{"field":"label"}}}
 ]},
 {"width":167,"height":119,"title":"Selection sort","layer":[
  {"data":{"name":"selection"},"mark":{"type":"point","shape":"circle","filled":false,"size":20,"strokeWidth":1,"color":"#000","opacity":1},
   "encoding":{"x":{"field":"energy","type":"quantitative","scale":{"domain":[0.42,3.097],"nice":false,"zero":false},"axis":{"values":[0.5,1,1.5,2,2.5,3],"tickCount":20,"format":".1f","title":null,"labelOverlap":false}},
   "y":{"field":"duration","type":"quantitative","scale":{"domain":[434,2267],"nice":false,"zero":false},"axis":{"values":[500,1000,1500,2000],"tickCount":20,"format":"d","title":null,"labelOverlap":false}}}},
  {"data":{"values":[{"energy":0.4,"duration":348},{"energy":3.2,"duration":2353}]},"mark":{"type":"line","color":"#ff0000","strokeWidth":1,"strokeDash":[3,2],"clip":true},
   "encoding":{"x":{"field":"energy","type":"quantitative"},"y":{"field":"duration","type":"quantitative"}}},
  {"data":{"values":[{"label":"r = 0.99996"}]},"mark":{"type":"text","align":"right","baseline":"alphabetic","color":"#ff0000","fontSize":15,"font":"Liberation Sans","dx":-1,"dy":-1},
   "encoding":{"x":{"datum":3.097,"type":"quantitative"},"y":{"datum":434,"type":"quantitative"},"text":{"field":"label"}}}
 ]},
 {"width":167,"height":119,"title":"Shaker sort","resolve":{"axis":{"y":"independent"}},"layer":[
  {"data":{"name":"shaker"},"mark":{"type":"point","shape":"circle","filled":false,"size":20,"strokeWidth":1,"color":"#000","opacity":1},
   "encoding":{"x":{"field":"energy","type":"quantitative","scale":{"domain":[0.42,3.097],"nice":false,"zero":false},"axis":{"values":[0.5,1,1.5,2,2.5,3],"tickCount":20,"format":".1f","title":null,"labelOverlap":false}},
   "y":{"field":"duration","type":"quantitative","scale":{"domain":[434,2267],"nice":false,"zero":false},"axis":{"orient":"left","values":[500,1000,1500,2000],"tickCount":20,"format":"d","title":null,"labelOverlap":false}}}},
  {"data":{"values":[{"energy":0.4,"duration":348},{"energy":3.2,"duration":2353}]},"mark":{"type":"line","color":"#ff0000","strokeWidth":1,"strokeDash":[3,2],"clip":true},
   "encoding":{"x":{"field":"energy","type":"quantitative"},"y":{"field":"duration","type":"quantitative","axis":{"orient":"right","title":"Algorithms","labels":false,"ticks":false,"domain":false,"titleFont":"Liberation Sans","titleFontSize":16,"titleFontWeight":"normal","titleColor":"#000","titleAngle":90,"titleAnchor":"middle","titleAlign":"center","titlePadding":18}}}},
  {"data":{"values":[{"label":"r = 0.99999"}]},"mark":{"type":"text","align":"right","baseline":"alphabetic","color":"#ff0000","fontSize":15,"font":"Liberation Sans","dx":-1,"dy":-1},
   "encoding":{"x":{"datum":3.097,"type":"quantitative"},"y":{"datum":434,"type":"quantitative","axis":{"orient":"right","title":"O(n²)","labels":false,"ticks":false,"domain":false,"titleFont":"Liberation Serif","titleFontStyle":"italic","titleFontSize":12,"titleFontWeight":"normal","titleColor":"#444","titleAngle":90,"titleAnchor":"middle","titleAlign":"center","titlePadding":40}},"text":{"field":"label"}}}
 ]}
]
}
]
}
